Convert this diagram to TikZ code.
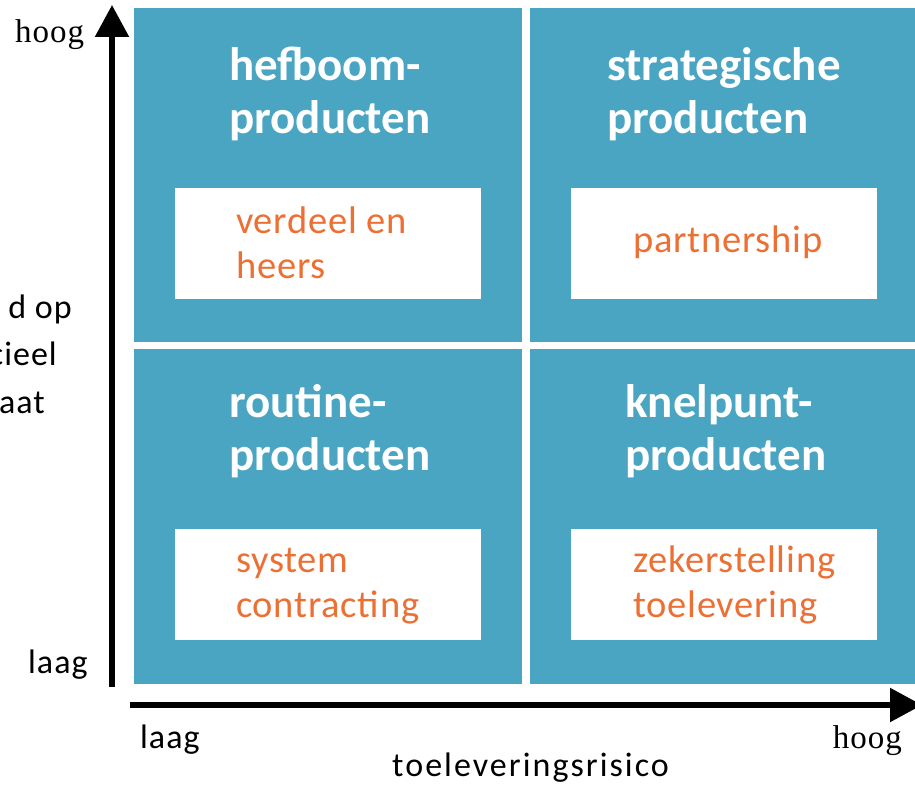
\documentclass[tikz,border=0pt]{standalone}
\usepackage{fontspec}
\setmainfont{Carlito}
\newfontfamily\axserif{Liberation Serif}
\usetikzlibrary{arrows.meta}
\definecolor{quadblue}{RGB}{74,165,194}
\definecolor{actorange}{RGB}{236,112,52}
\tikzset{
  quad/.style={fill=quadblue, draw=none, anchor=north west, inner sep=0pt},
  actbox/.style={fill=white, draw=none, anchor=north west, inner sep=0pt, minimum width=306pt, minimum height=111pt},
  ttl/.style={anchor=base west, inner sep=0pt, text=white, font=\fontsize{47}{53}\selectfont\bfseries, align=left},
  act/.style={anchor=base west, inner sep=0pt, text=actorange, font=\fontsize{38.5}{45}\selectfont\addfontfeatures{LetterSpace=2}, align=left},
  axlbl/.style={inner sep=0pt, text=black, font=\fontsize{34}{38}\selectfont\addfontfeatures{LetterSpace=3}},
  axserifl/.style={inner sep=0pt, text=black, font=\axserif\fontsize{33}{36}\selectfont\addfontfeatures{LetterSpace=3}},
  axis/.style={line width=5.5pt, -{Triangle[width=33pt,length=32pt]}}
}
\begin{document}
\begin{tikzpicture}[x=1pt,y=-1pt]
\useasboundingbox (0,0) rectangle (915,789);
% quadrants
\node[quad, minimum width=388pt, minimum height=334pt] (q1) at (134,8) {};
\node[quad, minimum width=400pt, minimum height=334pt] (q2) at (530,8) {};
\node[quad, minimum width=388pt, minimum height=335pt] (q3) at (134,349) {};
\node[quad, minimum width=400pt, minimum height=335pt] (q4) at (530,349) {};
% white boxes
\node[actbox] (b1) at (175,188) {};
\node[actbox] (b2) at (571,188) {};
\node[actbox] (b3) at (175,529) {};
\node[actbox] (b4) at (571,529) {};
% titles (base = last line)
\node[ttl] (t1) at (229,133) {hefboom-\\producten};
\node[ttl] (t2) at (607,133) {strategische\\producten};
\node[ttl] (t3) at (229,470) {routine-\\producten};
\node[ttl] (t4) at (625,470) {knelpunt-\\producten};
% actions
\node[act] (a1) at (236,278) {verdeel en\\heers};
\node[act] (a2) at (633,252) {partnership};
\node[act] (a3) at (236,617) {system\\contracting};
\node[act] (a4) at (633,617) {zekerstelling\\toelevering};
% axes
\coordinate (vs) at (112,687);
\coordinate (ve) at (112,5);
\coordinate (hs) at (130,705);
\coordinate (he) at (922,705);
\draw[axis] (vs) -- (ve);
\draw[axis] (hs) -- (he);
% axis labels
\node[axserifl, anchor=base west] (yh) at (15,43) {hoog};
\node[axlbl, anchor=base west] (yl) at (28,673) {laag};
\node[axlbl, anchor=base west] (xl) at (140,748) {laag};
\node[axserifl, anchor=base east] (xh) at (902,748) {hoog};
\node[axlbl, anchor=base west, font=\fontsize{34}{38}\selectfont\addfontfeatures{LetterSpace=6}] (xt) at (392,776) {toeleveringsrisico};
\node[axlbl, anchor=base east] (y1) at (72,318) {d op};
\node[axlbl, anchor=base east] (y2) at (57,365) {cieel};
\node[axlbl, anchor=base east] (y3) at (45,413) {aat};
\end{tikzpicture}
\end{document}
